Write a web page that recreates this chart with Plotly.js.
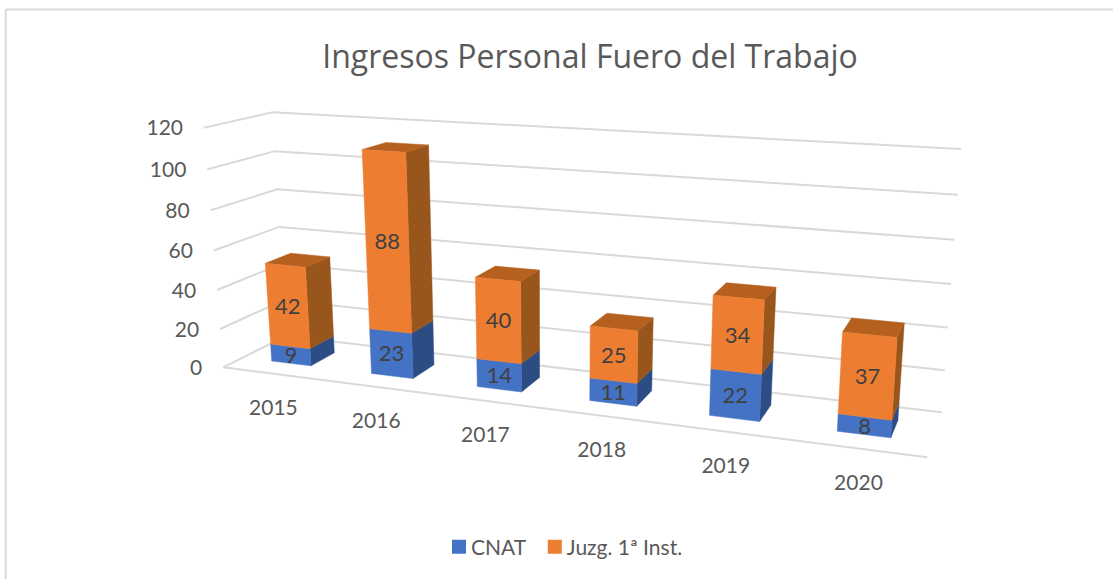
<!DOCTYPE html>
<html>
<head>
<meta charset="utf-8">
<script src="https://cdn.plot.ly/plotly-3.0.1.min.js"></script>
<style>html,body{margin:0;padding:0;background:#fff;overflow:hidden}#chart{width:1113px;height:579px}</style>
</head>
<body>
<div id="chart"></div>
<script>
var categories = ["2015", "2016", "2017", "2018", "2019", "2020"];
var cnat = [9, 23, 14, 11, 22, 8];
var juzg = [42, 88, 40, 25, 34, 37];
var valueTicks = [0, 20, 40, 60, 80, 100, 120];
var seriesNames = ["CNAT", "Juzg. 1ª Inst."];

// Perspective box of the chart's 3D plot area
var MAXV = 120, PERSP = 0.048;
var floorQuad = [[223.3,367.3],[927.3,457.3],[941.7,412.3],[285.5,336]];
var topQuad   = [[204,127.7],[946.8,171.3],[961,149],[272.7,112.3]];

function homography(q){
  var dx1=q[1][0]-q[2][0], dy1=q[1][1]-q[2][1], dx2=q[3][0]-q[2][0], dy2=q[3][1]-q[2][1];
  var sx=q[0][0]-q[1][0]+q[2][0]-q[3][0], sy=q[0][1]-q[1][1]+q[2][1]-q[3][1];
  var det=dx1*dy2-dx2*dy1, g=(sx*dy2-dx2*sy)/det, h=(dx1*sy-sx*dy1)/det;
  return function(u,v){
    var d=1+g*u+h*v;
    return [((q[1][0]-q[0][0]+g*q[1][0])*u+(q[3][0]-q[0][0]+h*q[3][0])*v+q[0][0])/d,
            ((q[1][1]-q[0][1]+g*q[1][1])*u+(q[3][1]-q[0][1]+h*q[3][1])*v+q[0][1])/d];
  };
}
var hb=homography(floorQuad), ht=homography(topQuad);
function project(u,v,val){
  var w=val/MAXV, t=w*(1-PERSP)/(1-PERSP*w), a=hb(u,v), b=ht(u,v);
  return [a[0]+t*(b[0]-a[0]), a[1]+t*(b[1]-a[1])];
}

var traces=[];
function poly(pts,color){
  traces.push({x:pts.map(function(p){return p[0];}).concat(pts[0][0]),
               y:pts.map(function(p){return p[1];}).concat(pts[0][1]),
               mode:'lines',fill:'toself',fillcolor:color,line:{width:0.5,color:color},
               showlegend:false,hoverinfo:'skip'});
}
function line(pts,color,width){
  traces.push({x:pts.map(function(p){return p[0];}),y:pts.map(function(p){return p[1];}),
               mode:'lines',line:{width:width,color:color},showlegend:false,hoverinfo:'skip'});
}

// gridlines
valueTicks.forEach(function(t){
  if(t===0){ line([project(1,1,t),project(0,1,t),project(0,0,t),project(1,0,t)],'#D9D9D9',2); }
  else { line([project(0,0,t),project(0,1,t),project(1,1,t)],'#D9D9D9',2); }
});

// columns
var N=categories.length, lbl={x:[],y:[],t:[]};
function face(i,lo,hi,front,side,top){
  var u0=(i+0.3)/N,u1=(i+0.7)/N,v0=0.3,v1=0.7;
  poly([project(u1,v0,lo),project(u1,v1,lo),project(u1,v1,hi),project(u1,v0,hi)],side);
  if(top) poly([project(u0,v0,hi),project(u1,v0,hi),project(u1,v1,hi),project(u0,v1,hi)],top);
  var a=project(u0,v0,lo),b=project(u1,v0,lo),c=project(u1,v0,hi),d=project(u0,v0,hi);
  poly([a,b,c,d],front);
  lbl.x.push((a[0]+b[0]+c[0]+d[0])/4); lbl.y.push((a[1]+b[1]+c[1]+d[1])/4+2.5); lbl.t.push(String(hi-lo));
}
categories.forEach(function(c,i){
  face(i,0,cnat[i],'#4472C4','#2C4C84',null);
  face(i,cnat[i],cnat[i]+juzg[i],'#ED7D31','#98551C','#B5601F');
});

var TXT='#595959', FONT='Lato, "Open Sans", sans-serif';
traces.push({x:lbl.x,y:lbl.y,text:lbl.t,mode:'text',textposition:'middle center',
  textfont:{family:FONT,size:22,color:'#404040'},showlegend:false,hoverinfo:'skip'});
// value axis labels
traces.push({x:valueTicks.map(function(t){return project(0,0,t)[0]-21;}),
  y:valueTicks.map(function(t){return project(0,0,t)[1]+2.5;}),
  text:valueTicks.map(String),mode:'text',textposition:'middle left',
  textfont:{family:FONT,size:21,color:TXT},showlegend:false,hoverinfo:'skip'});
// category labels
traces.push({x:categories.map(function(c,i){return project((i+0.5)/N,0,0)[0]+1;}),
  y:categories.map(function(c,i){return project((i+0.5)/N,0,0)[1]+36;}),
  text:categories,mode:'text',textposition:'middle center',
  textfont:{family:FONT,size:21,color:TXT},showlegend:false,hoverinfo:'skip'});
// legend entries
traces.push({x:[null],y:[null],name:seriesNames[0],mode:'markers',marker:{symbol:'square',size:14,color:'#4472C4'},hoverinfo:'skip'});
traces.push({x:[null],y:[null],name:seriesNames[1],mode:'markers',marker:{symbol:'square',size:14,color:'#ED7D31'},hoverinfo:'skip'});

var layout={
  width:1113,height:579,margin:{l:0,r:0,t:0,b:0},paper_bgcolor:'#fff',plot_bgcolor:'#fff',
  title:{text:'Ingresos Personal Fuero del Trabajo',x:590/1113,xanchor:'center',y:1-57/579,yanchor:'middle',
         font:{family:'"Open Sans", sans-serif',size:32,color:'#595959'}},
  xaxis:{range:[0,1113],visible:false,fixedrange:true},
  yaxis:{range:[579,0],visible:false,fixedrange:true},
  legend:{orientation:'h',x:562/1113,xanchor:'center',y:1-547/579,yanchor:'middle',
          font:{family:FONT,size:21,color:TXT},itemwidth:30,bgcolor:'rgba(0,0,0,0)'},
  shapes:[{type:'line',xref:'x',yref:'y',x0:5.7,x1:5.7,y0:579,y1:9.5,line:{color:'#D9D9D9',width:2}},
          {type:'line',xref:'x',yref:'y',x0:5.7,x1:1113,y0:9.5,y1:9.5,line:{color:'#D9D9D9',width:2}}]
};
Plotly.newPlot('chart',traces,layout,{displayModeBar:false,staticPlot:true}).then(function(){
  // tighten the legend swatch-to-label gap and the gap between entries
  document.querySelectorAll('.legend .legendpoints').forEach(function(g){
    g.setAttribute('transform','translate(8,0)');
  });
  var items=document.querySelectorAll('.legend .traces');
  if(items.length>1){
    var m=/translate\(\s*([-\d.]+)[ ,]+([-\d.]+)\s*\)/.exec(items[1].getAttribute('transform')||'');
    if(m) items[1].setAttribute('transform','translate('+(parseFloat(m[1])-5)+','+m[2]+')');
  }
});
</script>
</body>
</html>
